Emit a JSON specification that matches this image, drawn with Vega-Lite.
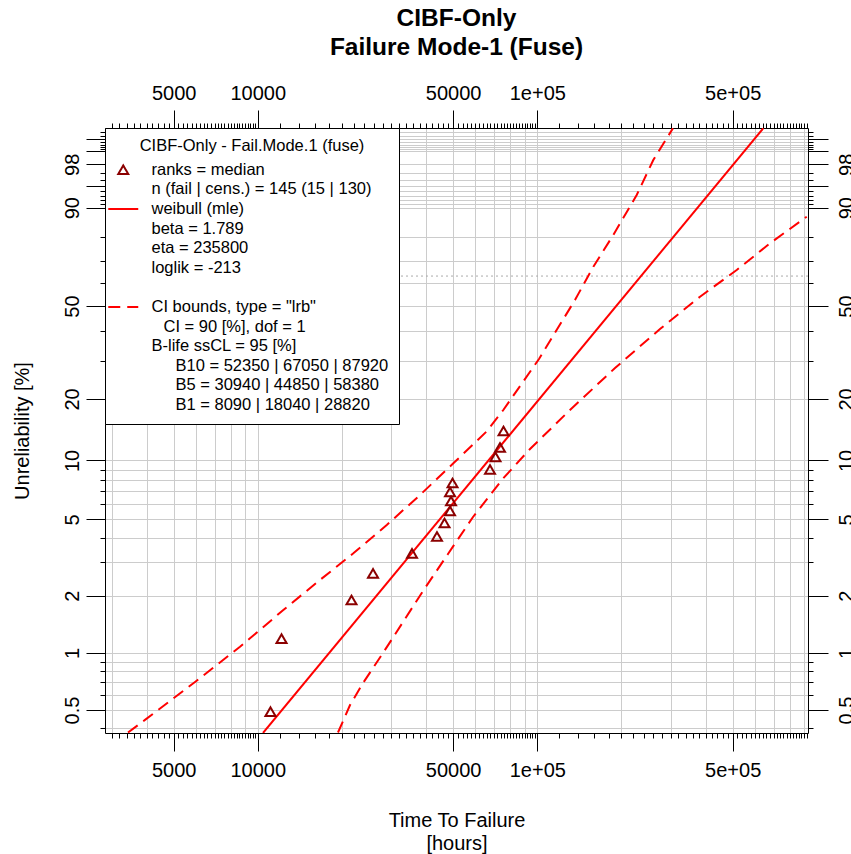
{
  "$schema": "https://vega.github.io/schema/vega-lite/v6.json",
  "width": 703,
  "height": 605,
  "autosize": {"type": "none"},
  "padding": {"left": 105, "top": 128, "right": 43, "bottom": 121},
  "background": "white",
  "config": {
    "view": {"stroke": null},
    "font": "Liberation Sans",
    "axis": {
      "domainColor": "black", "domainWidth": 1, "tickColor": "black", "tickWidth": 1,
      "labelColor": "black", "titleColor": "black",
      "labelFont": "Liberation Sans", "titleFont": "Liberation Sans",
      "labelFontSize": 20, "titleFontSize": 20, "titleFontWeight": "normal",
      "gridColor": "#CCCCCC", "gridWidth": 1,
      "labelOverlap": false, "labelFlush": false, "labelBound": false
    }
  },
  "title": {
    "text": ["CIBF-Only", "Failure Mode-1 (Fuse)"],
    "anchor": "middle", "font": "Liberation Sans", "fontSize": 24.5, "fontWeight": "bold",
    "color": "black", "lineHeight": 29, "offset": 23
  },
  "datasets": {
    "failures": [
      {"t": 11100, "F": 0.49}, {"t": 12160, "F": 1.19}, {"t": 21640, "F": 1.90},
      {"t": 25840, "F": 2.62}, {"t": 35620, "F": 3.33}, {"t": 43760, "F": 4.08},
      {"t": 46560, "F": 4.79}, {"t": 48720, "F": 5.53}, {"t": 49120, "F": 6.22},
      {"t": 48720, "F": 6.92}, {"t": 49740, "F": 7.69}, {"t": 67730, "F": 9.00},
      {"t": 70860, "F": 10.41}, {"t": 73540, "F": 11.61}, {"t": 75700, "F": 14.01}
    ],
    "fit": [
      {"t": 10440, "F": 0.378}, {"t": 643500, "F": 99.77}
    ],
    "ci": [
      {"bound": "upper", "t": 3432, "F": 0.38},
      {"bound": "upper", "t": 3948, "F": 0.443},
      {"bound": "upper", "t": 5962, "F": 0.703},
      {"bound": "upper", "t": 8636, "F": 1.079},
      {"bound": "upper", "t": 9378, "F": 1.195},
      {"bound": "upper", "t": 12340, "F": 1.684},
      {"bound": "upper", "t": 16690, "F": 2.42},
      {"bound": "upper", "t": 21970, "F": 3.336},
      {"bound": "upper", "t": 28930, "F": 4.679},
      {"bound": "upper", "t": 38050, "F": 6.679},
      {"bound": "upper", "t": 50070, "F": 9.675},
      {"bound": "upper", "t": 65920, "F": 13.95},
      {"bound": "upper", "t": 75580, "F": 17.72},
      {"bound": "upper", "t": 101400, "F": 30.47},
      {"bound": "upper", "t": 136400, "F": 52.61},
      {"bound": "upper", "t": 158700, "F": 67.41},
      {"bound": "upper", "t": 187000, "F": 80.81},
      {"bound": "upper", "t": 226800, "F": 93.21},
      {"bound": "upper", "t": 260000, "F": 98.38},
      {"bound": "upper", "t": 305800, "F": 99.77},
      {"bound": "lower", "t": 19360, "F": 0.38},
      {"bound": "lower", "t": 21380, "F": 0.531},
      {"bound": "lower", "t": 23790, "F": 0.694},
      {"bound": "lower", "t": 28050, "F": 1.0},
      {"bound": "lower", "t": 33080, "F": 1.456},
      {"bound": "lower", "t": 39000, "F": 2.119},
      {"bound": "lower", "t": 47910, "F": 3.308},
      {"bound": "lower", "t": 58880, "F": 5.147},
      {"bound": "lower", "t": 75580, "F": 8.128},
      {"bound": "lower", "t": 94170, "F": 11.41},
      {"bound": "lower", "t": 130900, "F": 17.72},
      {"bound": "lower", "t": 189700, "F": 27.79},
      {"bound": "lower", "t": 274800, "F": 40.79},
      {"bound": "lower", "t": 382100, "F": 54.04},
      {"bound": "lower", "t": 516900, "F": 65.93},
      {"bound": "lower", "t": 680000, "F": 77.5},
      {"bound": "lower", "t": 920300, "F": 87.3}
    ],
    "charlife": [{"F": 63.212}]
  },
  "layer": [
    {
      "data": {"name": "charlife"},
      "transform": [{"calculate": "-log(1 - datum.F/100)", "as": "z"}],
      "mark": {"type": "rule", "color": "#AAAAAA", "strokeDash": [2, 3], "strokeWidth": 1},
      "encoding": {
        "y": {"field": "z", "type": "quantitative", "scale": {"type": "log", "domain": [0.003785, 6.092], "nice": false}, "axis": null}
      }
    },
    {
      "data": {"name": "ci"},
      "transform": [{"calculate": "-log(1 - datum.F/100)", "as": "z"}],
      "mark": {"type": "line", "color": "#FF0000", "strokeWidth": 2, "strokeDash": [12, 7], "clip": true},
      "encoding": {
        "x": {"field": "t", "type": "quantitative", "scale": {"type": "log", "domain": [2840, 930000], "nice": false}, "axis": null},
        "y": {"field": "z", "type": "quantitative", "scale": {"type": "log", "domain": [0.003785, 6.092], "nice": false}, "axis": null},
        "detail": {"field": "bound"}
      }
    },
    {
      "data": {"name": "fit"},
      "transform": [{"calculate": "-log(1 - datum.F/100)", "as": "z"}],
      "mark": {"type": "line", "color": "#FF0000", "strokeWidth": 2, "clip": true},
      "encoding": {
        "x": {
          "field": "t", "type": "quantitative",
          "scale": {"type": "log", "domain": [2840, 930000], "nice": false},
          "axis": {
            "orient": "top",
            "values": [3000,3200,3400,3600,3800,4000,4200,4400,4600,4800,5000,5200,5400,5600,5800,6000,6200,6400,6600,6800,7000,7200,7400,7600,7800,8000,8200,8400,8600,8800,9000,9200,9400,9600,9800,10000,12000,14000,16000,18000,20000,22000,24000,26000,28000,30000,32000,34000,36000,38000,40000,42000,44000,46000,48000,50000,52000,54000,56000,58000,60000,62000,64000,66000,68000,70000,72000,74000,76000,78000,80000,82000,84000,86000,88000,90000,92000,94000,96000,98000,100000,120000,140000,160000,180000,200000,220000,240000,260000,280000,300000,320000,340000,360000,380000,400000,420000,440000,460000,480000,500000,520000,540000,560000,580000,600000,620000,640000,660000,680000,700000,720000,740000,760000,780000,800000,820000,840000,860000,880000,900000,920000],
            "labelExpr": "datum.value == 5000 ? '5000' : datum.value == 10000 ? '10000' : datum.value == 50000 ? '50000' : datum.value == 100000 ? '1e+05' : datum.value == 500000 ? '5e+05' : ''",
            "tickSize": {"condition": {"test": "datum.value == 5000 || datum.value == 10000 || datum.value == 50000 || datum.value == 100000 || datum.value == 500000", "value": 18}, "value": 5},
            "grid": false,
            "labelBaseline": "alphabetic",
            "labelPadding": 10.5,
            "title": null
          }
        },
        "y": {
          "field": "z", "type": "quantitative",
          "scale": {"type": "log", "domain": [0.003785, 6.092], "nice": false},
          "axis": {
            "orient": "right",
            "values": [0.004008,0.0050125,0.0060181,0.0070246,0.0080322,0.0090407,0.0100503,0.0202027,0.0304592,0.040822,0.0512933,0.0618754,0.0725707,0.0833816,0.0943107,0.1053605,0.2231436,0.3566749,0.5108256,0.6931472,0.9162907,1.2039728,1.6094379,2.3025851,2.4079456,2.5257286,2.65926,2.8134107,2.9957323,3.2188758,3.5065579,3.912023,4.6051702,4.7105307,4.8283137,4.9618451,5.1159958,5.2983174,5.5214609,5.809143],
            "labelExpr": "datum.value == 0.0050125 ? '0.5' : datum.value == 0.0100503 ? '1' : datum.value == 0.0202027 ? '2' : datum.value == 0.0512933 ? '5' : datum.value == 0.1053605 ? '10' : datum.value == 0.2231436 ? '20' : datum.value == 0.6931472 ? '50' : datum.value == 2.3025851 ? '90' : datum.value == 3.912023 ? '98' : ''",
            "tickSize": {"condition": {"test": "datum.value == 0.0050125 || datum.value == 0.0100503 || datum.value == 0.0202027 || datum.value == 0.0512933 || datum.value == 0.1053605 || datum.value == 0.2231436 || datum.value == 0.6931472 || datum.value == 2.3025851 || datum.value == 2.9957323 || datum.value == 3.912023 || datum.value == 4.6051702 || datum.value == 5.2983174", "value": 20}, "value": 5},
            "grid": false,
            "labelAngle": 270,
            "labelAlign": "center",
            "labelBaseline": "top",
            "labelPadding": 8,
            "title": null
          }
        }
      }
    },
    {
      "data": {"name": "failures"},
      "transform": [{"calculate": "-log(1 - datum.F/100)", "as": "z"}],
      "mark": {"type": "point", "size": 100, "filled": false, "strokeWidth": 2, "opacity": 1},
      "encoding": {
        "x": {
          "field": "t", "type": "quantitative",
          "scale": {"type": "log", "domain": [2840, 930000], "nice": false},
          "axis": {
            "orient": "bottom",
            "values": [3000,3200,3400,3600,3800,4000,4200,4400,4600,4800,5000,5200,5400,5600,5800,6000,6200,6400,6600,6800,7000,7200,7400,7600,7800,8000,8200,8400,8600,8800,9000,9200,9400,9600,9800,10000,12000,14000,16000,18000,20000,22000,24000,26000,28000,30000,32000,34000,36000,38000,40000,42000,44000,46000,48000,50000,52000,54000,56000,58000,60000,62000,64000,66000,68000,70000,72000,74000,76000,78000,80000,82000,84000,86000,88000,90000,92000,94000,96000,98000,100000,120000,140000,160000,180000,200000,220000,240000,260000,280000,300000,320000,340000,360000,380000,400000,420000,440000,460000,480000,500000,520000,540000,560000,580000,600000,620000,640000,660000,680000,700000,720000,740000,760000,780000,800000,820000,840000,860000,880000,900000,920000],
            "labelExpr": "datum.value == 5000 ? '5000' : datum.value == 10000 ? '10000' : datum.value == 50000 ? '50000' : datum.value == 100000 ? '1e+05' : datum.value == 500000 ? '5e+05' : ''",
            "tickSize": {"condition": {"test": "datum.value == 5000 || datum.value == 10000 || datum.value == 50000 || datum.value == 100000 || datum.value == 500000", "value": 18}, "value": 5},
            "grid": true,
            "gridOpacity": {"condition": {"test": "datum.value == 3000 || datum.value == 4000 || datum.value == 5000 || datum.value == 6000 || datum.value == 7000 || datum.value == 8000 || datum.value == 9000 || datum.value == 10000 || datum.value == 20000 || datum.value == 30000 || datum.value == 40000 || datum.value == 50000 || datum.value == 60000 || datum.value == 70000 || datum.value == 80000 || datum.value == 90000 || datum.value == 100000 || datum.value == 200000 || datum.value == 300000 || datum.value == 400000 || datum.value == 500000 || datum.value == 600000 || datum.value == 700000 || datum.value == 800000 || datum.value == 900000", "value": 1}, "value": 0},
            "labelBaseline": "top",
            "labelPadding": 9,
            "title": ["Time To Failure", "[hours]"],
            "titlePadding": 30,
            "titleLineHeight": 23
          }
        },
        "y": {
          "field": "z", "type": "quantitative",
          "scale": {"type": "log", "domain": [0.003785, 6.092], "nice": false},
          "axis": {
            "orient": "left",
            "values": [0.004008,0.0050125,0.0060181,0.0070246,0.0080322,0.0090407,0.0100503,0.0202027,0.0304592,0.040822,0.0512933,0.0618754,0.0725707,0.0833816,0.0943107,0.1053605,0.2231436,0.3566749,0.5108256,0.6931472,0.9162907,1.2039728,1.6094379,2.3025851,2.4079456,2.5257286,2.65926,2.8134107,2.9957323,3.2188758,3.5065579,3.912023,4.6051702,4.7105307,4.8283137,4.9618451,5.1159958,5.2983174,5.5214609,5.809143],
            "labelExpr": "datum.value == 0.0050125 ? '0.5' : datum.value == 0.0100503 ? '1' : datum.value == 0.0202027 ? '2' : datum.value == 0.0512933 ? '5' : datum.value == 0.1053605 ? '10' : datum.value == 0.2231436 ? '20' : datum.value == 0.6931472 ? '50' : datum.value == 2.3025851 ? '90' : datum.value == 3.912023 ? '98' : ''",
            "tickSize": {"condition": {"test": "datum.value == 0.0050125 || datum.value == 0.0100503 || datum.value == 0.0202027 || datum.value == 0.0512933 || datum.value == 0.1053605 || datum.value == 0.2231436 || datum.value == 0.6931472 || datum.value == 2.3025851 || datum.value == 2.9957323 || datum.value == 3.912023 || datum.value == 4.6051702 || datum.value == 5.2983174", "value": 19}, "value": 5},
            "grid": true,
            "labelAngle": 270,
            "labelAlign": "center",
            "labelBaseline": "alphabetic",
            "labelPadding": 8,
            "title": "Unreliability [%]",
            "titlePadding": 30
          }
        },
        "shape": {
          "datum": "ranks = median", "type": "nominal",
          "scale": {
            "domain": [
              "ranks = median",
              "n (fail | cens.) = 145 (15 | 130)",
              "weibull (mle)",
              "beta = 1.789",
              "eta = 235800",
              "loglik = -213",
              "\u00a0",
              "CI bounds, type = \"lrb\"",
              "\u2800CI = 90 [%], dof = 1",
              "B-life ssCL = 95 [%]",
              "\u2800\u2800B10 = 52350 | 67050 | 87920",
              "\u2800\u2800B5 = 30940 | 44850 | 58380",
              "\u2800\u2800B1 = 8090 | 18040 | 28820"
            ],
            "range": ["triangle-up", "M-3,0H3", "M-3,0H3", "M-3,0H3", "M-3,0H3", "M-3,0H3", "M-3,0H3", "M-3,0H3", "M-3,0H3", "M-3,0H3", "M-3,0H3", "M-3,0H3", "M-3,0H3"]
          }
        },
        "strokeDash": {
          "datum": "ranks = median", "type": "nominal",
          "scale": {
            "domain": [
              "ranks = median",
              "n (fail | cens.) = 145 (15 | 130)",
              "weibull (mle)",
              "beta = 1.789",
              "eta = 235800",
              "loglik = -213",
              "\u00a0",
              "CI bounds, type = \"lrb\"",
              "\u2800CI = 90 [%], dof = 1",
              "B-life ssCL = 95 [%]",
              "\u2800\u2800B10 = 52350 | 67050 | 87920",
              "\u2800\u2800B5 = 30940 | 44850 | 58380",
              "\u2800\u2800B1 = 8090 | 18040 | 28820"
            ],
            "range": [[1, 0], [1, 0], [1, 0], [1, 0], [1, 0], [1, 0], [1, 0], [12, 7], [1, 0], [1, 0], [1, 0], [1, 0], [1, 0]]
          }
        },
        "color": {
          "datum": "ranks = median", "type": "nominal",
          "scale": {
            "domain": [
              "ranks = median",
              "n (fail | cens.) = 145 (15 | 130)",
              "weibull (mle)",
              "beta = 1.789",
              "eta = 235800",
              "loglik = -213",
              "\u00a0",
              "CI bounds, type = \"lrb\"",
              "\u2800CI = 90 [%], dof = 1",
              "B-life ssCL = 95 [%]",
              "\u2800\u2800B10 = 52350 | 67050 | 87920",
              "\u2800\u2800B5 = 30940 | 44850 | 58380",
              "\u2800\u2800B1 = 8090 | 18040 | 28820"
            ],
            "range": ["#8B0000", "transparent", "#FF0000", "transparent", "transparent", "transparent", "transparent", "#FF0000", "transparent", "transparent", "transparent", "transparent", "transparent"]
          },
          "legend": {
            "title": "CIBF-Only - Fail.Mode.1 (fuse)",
            "orient": "top-left",
            "offset": 0,
            "padding": 10,
            "fillColor": "white",
            "strokeColor": "black",
            "titleAnchor": "middle",
            "titleFont": "Liberation Sans",
            "titleFontSize": 16.5,
            "titleFontWeight": "normal",
            "titleColor": "black",
            "titlePadding": 7,
            "titleLimit": 500,
            "titleBaseline": "top",
            "labelFont": "Liberation Sans",
            "labelFontSize": 16.5,
            "labelColor": "black",
            "labelLimit": 500,
            "labelOffset": 20,
            "symbolSize": 100,
            "symbolStrokeWidth": 2,
            "rowPadding": 2.6
          }
        }
      }
    }
  ],
  "resolve": {"axis": {"x": "independent", "y": "independent"}}
}
